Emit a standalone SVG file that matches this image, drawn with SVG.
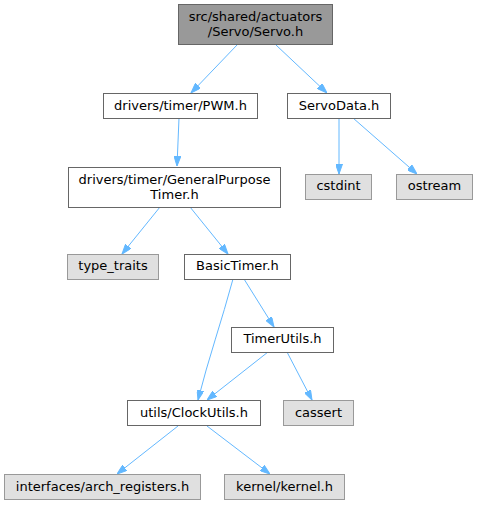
<svg xmlns="http://www.w3.org/2000/svg" width="478" height="505" viewBox="0 0 478 505">
<defs>
<marker id="ah" viewBox="0 0 10 7" refX="10" refY="3.5" markerWidth="10" markerHeight="7" markerUnits="userSpaceOnUse" orient="auto">
<path d="M0,0 L10,3.5 L0,7 z" fill="#63b8ff" stroke="#63b8ff"/>
</marker>
</defs>
<style>
.n rect{fill:#ffffff;stroke:#666666;stroke-width:1}
.g rect{fill:#e0e0e0;stroke:#999999;stroke-width:1}
.r rect{fill:#999999;stroke:#666666;stroke-width:1}
text{font-family:"DejaVu Sans",sans-serif;font-size:13px;fill:#000000;text-anchor:middle}
.e path{fill:none;stroke:#63b8ff;stroke-width:1;marker-end:url(#ah)}
</style>
<g class="e" id="edges">
<path d="M237,45 L191,93"/>
<path d="M276,45 L327,93"/>
<path d="M179,118 L177,166"/>
<path d="M339,118 L339,174"/>
<path d="M353,118 L417,174"/>
<path d="M160,207 L122,254"/>
<path d="M190,207 L228,254"/>
<path d="M233,279 C222,320 208,360 198,400"/>
<path d="M244,279 L274,327"/>
<path d="M268,352 L207,400"/>
<path d="M287,352 L312,400"/>
<path d="M178,426 L117,474"/>
<path d="M207,426 L270,474"/>
</g>
<g id="servo" class="r"><rect x="178.5" y="4.5" width="154" height="40"/><text x="255.5" y="21">src/shared/actuators</text><text x="255.5" y="36">/Servo/Servo.h</text></g>
<g id="pwm" class="n"><rect x="103.5" y="93.5" width="154" height="25"/><text x="180.5" y="110">drivers/timer/PWM.h</text></g>
<g id="servodata" class="n"><rect x="287.5" y="93.5" width="103" height="25"/><text x="339" y="110">ServoData.h</text></g>
<g id="gpt" class="n"><rect x="68.5" y="167.5" width="212" height="40"/><text x="174.5" y="183.5">drivers/timer/GeneralPurpose</text><text x="174.5" y="198.5">Timer.h</text></g>
<g id="cstdint" class="g"><rect x="305.5" y="174.5" width="66" height="25"/><text x="338.5" y="190">cstdint</text></g>
<g id="ostream" class="g"><rect x="396.5" y="174.5" width="76" height="25"/><text x="434.5" y="190">ostream</text></g>
<g id="type_traits" class="g"><rect x="67.5" y="254.5" width="91" height="25"/><text x="113" y="270">type_traits</text></g>
<g id="basictimer" class="n"><rect x="184.5" y="254.5" width="106" height="25"/><text x="237.5" y="270">BasicTimer.h</text></g>
<g id="timerutils" class="n"><rect x="231.5" y="327.5" width="102" height="25"/><text x="282.5" y="343">TimerUtils.h</text></g>
<g id="clockutils" class="n"><rect x="127.5" y="400.5" width="133" height="25"/><text x="194" y="416.5">utils/ClockUtils.h</text></g>
<g id="cassert" class="g"><rect x="283.5" y="400.5" width="70" height="25"/><text x="318.5" y="416.5">cassert</text></g>
<g id="arch_registers" class="g"><rect x="4.5" y="474.5" width="196" height="25"/><text x="102.5" y="490.5">interfaces/arch_registers.h</text></g>
<g id="kernel" class="g"><rect x="224.5" y="474.5" width="120" height="25"/><text x="284.5" y="490.5">kernel/kernel.h</text></g>
</svg>
